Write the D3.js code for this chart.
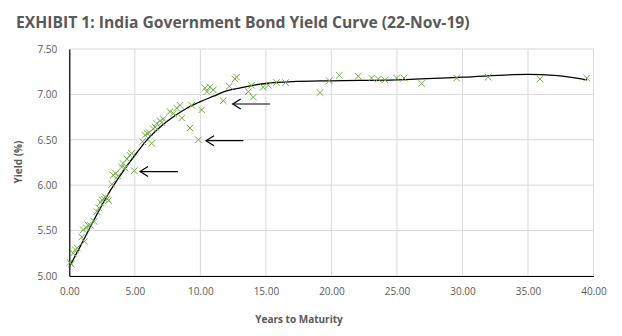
<!DOCTYPE html>
<html><head><meta charset="utf-8">
<script src="https://cdn.jsdelivr.net/npm/d3@7"></script>
<style>body{margin:0;background:#fff;} svg{display:block;}</style>
</head><body>
<svg id="c" width="622" height="336"></svg>
<script>
// ---- data ----
const titleText = "EXHIBIT 1: India Government Bond Yield Curve (22-Nov-19)";
const xTicks = [0, 5, 10, 15, 20, 25, 30, 35, 40];
const yTicks = [5.0, 5.5, 6.0, 6.5, 7.0, 7.5];
const bondYears = [0.05,0.15,0.3,0.45,0.6,0.95,1.07,1.15,1.3,1.45,1.6,1.9,2.1,2.25,2.4,2.5,2.65,2.75,2.9,3.0,3.25,3.35,3.55,3.7,4.0,4.1,4.25,4.4,4.63,4.76,4.96,5.6,5.78,5.95,6.1,6.29,6.41,6.55,6.67,6.92,7.05,7.17,7.68,7.94,8.19,8.45,8.58,9.21,9.34,9.85,10.1,10.35,10.5,10.74,10.99,11.75,12.21,12.64,12.77,13.66,13.9,14.04,14.8,15.18,15.8,16.5,19.13,19.84,20.6,22.05,23.07,23.58,24.09,24.98,25.54,26.89,29.56,31.97,35.92,39.48];
const bondYields = [5.15,5.13,5.25,5.29,5.31,5.43,5.51,5.38,5.53,5.56,5.56,5.60,5.71,5.75,5.81,5.84,5.85,5.87,5.85,5.83,6.01,6.11,6.13,6.10,6.20,6.24,6.19,6.29,6.33,6.35,6.16,6.48,6.55,6.57,6.58,6.46,6.62,6.64,6.68,6.71,6.69,6.73,6.81,6.79,6.85,6.88,6.74,6.63,6.88,6.50,6.83,7.07,7.03,7.08,7.05,6.93,7.09,7.17,7.19,7.03,7.10,6.97,7.08,7.10,7.13,7.13,7.02,7.15,7.21,7.20,7.18,7.17,7.16,7.18,7.18,7.12,7.18,7.19,7.17,7.18];
const trendYears  = [0,1,2,3,4,5,6,7,8,9,10,11,12,13,14,15,17,20,25,30,35,37,39.5];
const trendYields = [5.10,5.37,5.65,5.91,6.13,6.33,6.51,6.65,6.76,6.85,6.92,6.98,7.04,7.07,7.10,7.12,7.14,7.15,7.16,7.19,7.22,7.21,7.16];
// arrows: [fromYear, toYear, yield]
const arrowsFrom = [8.29, 13.28, 15.31];
const arrowsTo   = [5.40, 10.43, 12.47];
const arrowsY    = [6.15, 6.49, 6.894];

const svg = d3.select("#c");
const L = 69.3, R = 593.5, T = 49, B = 276;
const x = d3.scaleLinear().domain([0, 40]).range([L, R]);
const y = d3.scaleLinear().domain([5, 7.5]).range([B, T]);
const txt = "#595959", font = "'Open Sans', sans-serif";

// gridlines
const g = svg.append("g");
g.selectAll("line.h").data(yTicks).join("line")
  .attr("x1", L).attr("x2", R).attr("y1", d => y(d)).attr("y2", d => y(d))
  .attr("stroke", "#d9d9d9").attr("stroke-width", 1);
g.selectAll("line.v").data(xTicks).join("line")
  .attr("y1", T).attr("y2", B).attr("x1", d => x(d)).attr("x2", d => x(d))
  .attr("stroke", "#d9d9d9").attr("stroke-width", 1);

// axes
const xa = svg.append("g").attr("transform", `translate(0,${B})`)
  .call(d3.axisBottom(x).tickValues(xTicks).tickFormat(d3.format(".2f")).tickSize(0).tickPadding(12));
const ya = svg.append("g").attr("transform", `translate(${L},0)`)
  .call(d3.axisLeft(y).tickValues(yTicks).tickFormat(d3.format(".2f")).tickSize(0).tickPadding(12));
[xa, ya].forEach(a => {
  a.select(".domain").attr("stroke", "#000").attr("stroke-width", 1.2);
  a.selectAll("text").attr("fill", txt).attr("font-family", font).attr("font-size", 10);
});

// trend line
svg.append("path")
  .datum(trendYears.map((t, i) => [t, trendYields[i]]))
  .attr("fill", "none").attr("stroke", "#000").attr("stroke-width", 1.3)
  .attr("d", d3.line().x(d => x(d[0])).y(d => y(d[1])).curve(d3.curveMonotoneX));

// markers (x)
const s = 3.3;
svg.append("g").selectAll("path").data(bondYears.map((t, i) => [t, bondYields[i]])).join("path")
  .attr("d", d => { const cx = x(d[0]), cy = y(d[1]);
    return `M${cx-s},${cy-s}L${cx+s},${cy+s}M${cx-s},${cy+s}L${cx+s},${cy-s}`; })
  .attr("stroke", "#70ad47").attr("stroke-width", 1).attr("fill", "none");

// arrows
const ag = svg.append("g").attr("stroke", "#000").attr("stroke-width", 1.2).attr("fill", "none");
arrowsFrom.forEach((f, i) => {
  const x1 = x(f), x2 = x(arrowsTo[i]), yy = y(arrowsY[i]);
  ag.append("line").attr("x1", x1).attr("x2", x2).attr("y1", yy).attr("y2", yy);
  ag.append("path").attr("d", `M${x2+8},${yy-5}L${x2},${yy}L${x2+8},${yy+5}`);
});

// titles
const title = svg.append("text").attr("x", 16).attr("y", 28).text(titleText)
  .attr("fill", txt).attr("font-family", font).attr("font-weight", "bold").attr("font-size", 16);
const w = title.node().getComputedTextLength();
title.attr("font-size", 16 * 454 / w);

svg.append("text").attr("x", 299).attr("y", 323).attr("text-anchor", "middle")
  .text("Years to Maturity").attr("fill", txt).attr("font-family", font)
  .attr("font-weight", "bold").attr("font-size", 10);
svg.append("text").attr("transform", "translate(22,162) rotate(-90)").attr("text-anchor", "middle")
  .text("Yield (%)").attr("fill", txt).attr("font-family", font)
  .attr("font-weight", "bold").attr("font-size", 10);
</script>
</body></html>
